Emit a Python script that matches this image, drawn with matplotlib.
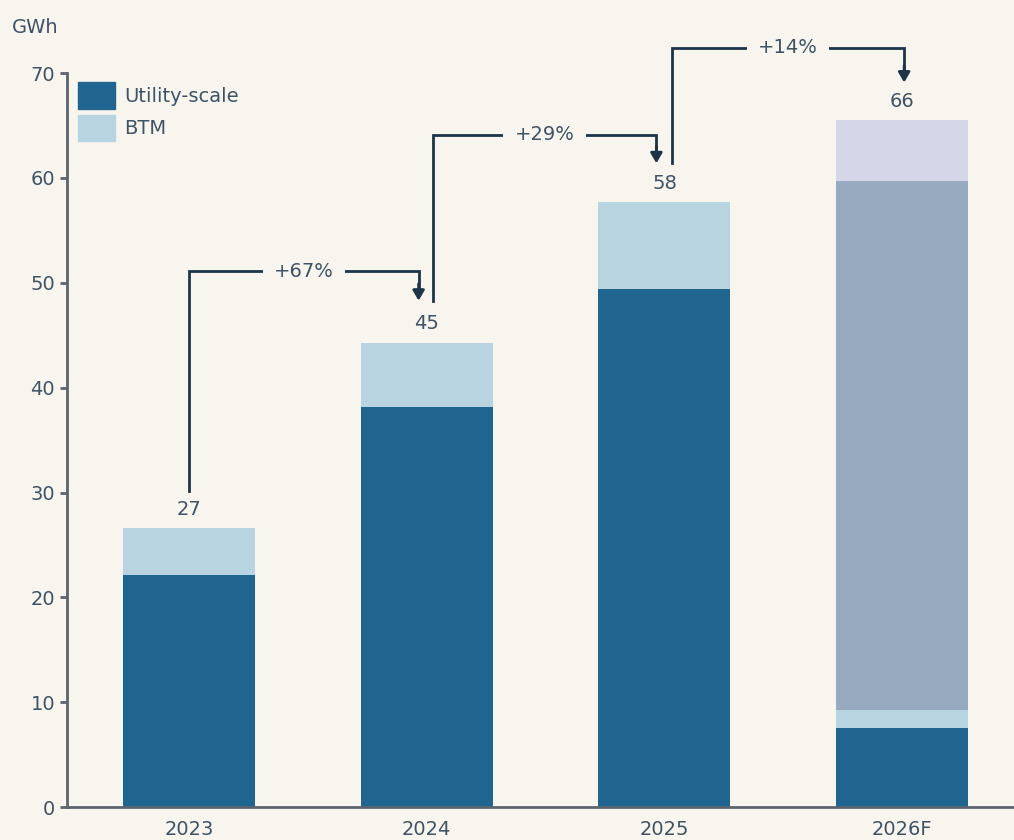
import matplotlib.pyplot as plt
from matplotlib.patches import Patch

# Data
years = ["2023", "2024", "2025", "2026F"]
utility = [22.1, 38.2, 49.4, 7.6]
btm = [4.5, 6.1, 8.3, 1.7]
pipeline = [0, 0, 0, 50.4]
other = [0, 0, 0, 5.8]
totals = ["27", "45", "58", "66"]
growth = ["+67%", "+29%", "+14%"]

# Style
bg = "#F8F5EE"
c_util = "#1F6590"
c_btm = "#B8D4E0"
c_pipe = "#97AABF"
c_other = "#D5D7E8"
txt = "#3E5366"
arrow_c = "#1D3448"

plt.rcParams["font.family"] = ["DejaVu Sans"]

fig = plt.figure(figsize=(10.14, 8.4), dpi=100, facecolor=bg)
ax = fig.add_axes([0.066, 0.039, 0.934, 0.874], facecolor=bg)

x = list(range(len(years)))
w = 0.555
ax.bar(x, utility, w, color=c_util, label="Utility-scale")
base = utility
ax.bar(x, btm, w, bottom=base, color=c_btm, label="BTM")
base = [a + b for a, b in zip(base, btm)]
ax.bar(x, pipeline, w, bottom=base, color=c_pipe)
base = [a + b for a, b in zip(base, pipeline)]
ax.bar(x, other, w, bottom=base, color=c_other)
tops = [a + b for a, b in zip(base, other)]

for i, t in enumerate(totals):
    ax.text(x[i], tops[i] + 0.9, t, ha="center", va="bottom",
            fontsize=14, color=txt)

# Growth arrows: (start x, start y, level, end x, tip y)
arrows = [
    (0.0, 30.2, 51.1, 0.966, 48.3),
    (1.025, 48.3, 64.1, 1.966, 61.4),
    (2.03, 61.4, 72.4, 3.008, 69.1),
]
for (x0, y0, lvl, x1, y1), g in zip(arrows, growth):
    ax.plot([x0, x0, x1, x1], [y0, lvl, lvl, y1 + 1.2], color=arrow_c,
            lw=2, clip_on=False, solid_joinstyle="miter", zorder=3)
    ax.annotate("", xy=(x1, y1), xytext=(x1, y1 + 1.6),
                arrowprops=dict(arrowstyle="-|>,head_length=0.6,head_width=0.35",
                                color=arrow_c, lw=2, shrinkA=0, shrinkB=0),
                annotation_clip=False, zorder=3)
    ax.text((x0 + x1) / 2, lvl, g, ha="center", va="center",
            fontsize=14, color=txt, zorder=4,
            bbox=dict(facecolor=bg, edgecolor="none", pad=8))

ax.set_xlim(-0.513, 3.47)
ax.set_ylim(0, 70)
ax.set_yticks(range(0, 71, 10))
ax.set_xticks(x)
ax.set_xticklabels(years)
ax.tick_params(axis="y", colors="#5A6570", labelcolor=txt, labelsize=14,
               length=5, width=2)
ax.tick_params(axis="x", length=0, labelcolor=txt, labelsize=14, pad=9)
for s in ["top", "right"]:
    ax.spines[s].set_visible(False)
ax.spines["left"].set_color("#5A6570")
ax.spines["left"].set_linewidth(2)
ax.spines["bottom"].set_color("#5A6570")
ax.spines["bottom"].set_linewidth(2)

fig.text(0.012, 0.967, "GWh", fontsize=14, color=txt, va="center", ha="left")

handles = [Patch(color=c_util, label="Utility-scale"),
           Patch(color=c_btm, label="BTM")]
ax.legend(handles=handles, loc="upper left", bbox_to_anchor=(0.0116, 0.988),
          frameon=False, fontsize=14, handlelength=1.9, handleheight=1.75,
          handletextpad=0.5, labelspacing=0.3, labelcolor=txt,
          borderpad=0, borderaxespad=0)

fig.savefig("out.png", dpi=100, facecolor=bg)
